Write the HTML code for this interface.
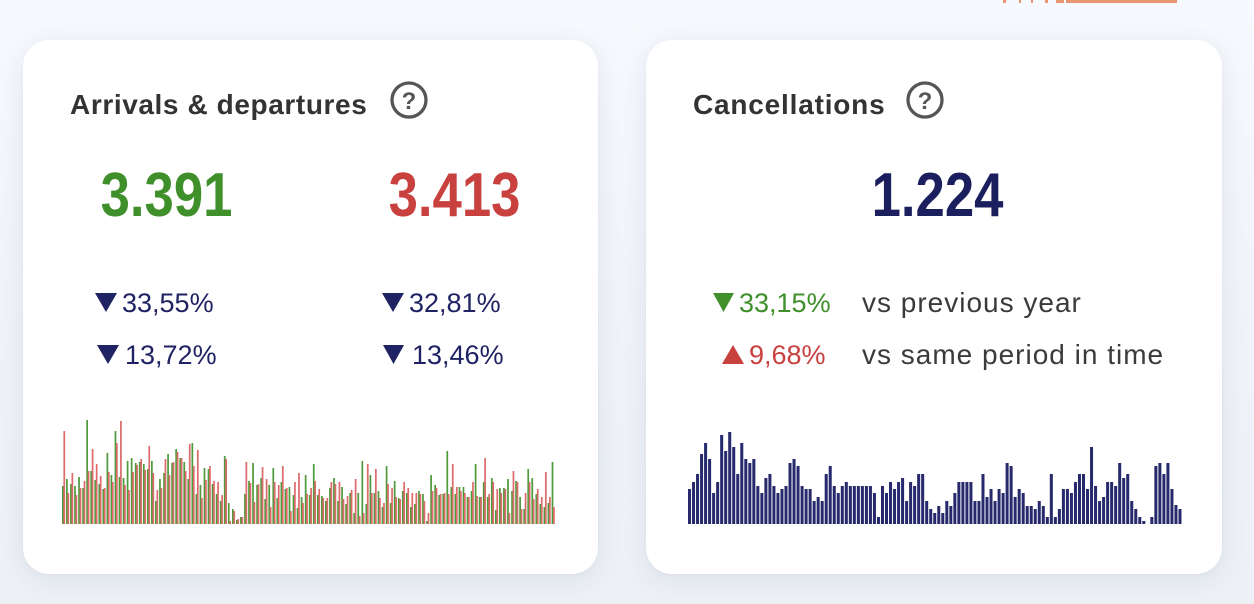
<!DOCTYPE html>
<html><head><meta charset="utf-8">
<style>
html,body{margin:0;padding:0;}
body{width:1254px;height:604px;overflow:hidden;position:relative;background:linear-gradient(180deg,#f6f9fd 0%,#eff3f8 60%,#edf1f6 100%);font-family:"Liberation Sans",sans-serif;}
.card{position:absolute;top:40px;height:534px;background:#fff;border-radius:26px;box-shadow:0 6px 26px rgba(40,60,100,0.09),0 1px 3px rgba(40,60,100,0.04);}
#c1{left:23px;width:575px;}
#c2{left:646px;width:576px;}
svg{position:absolute;display:block;}
.orange{position:absolute;top:0;height:3px;background:#e9956e;}
</style></head>
<body>
<div class="orange" style="left:1066px;width:111px;"></div>
<div class="orange" style="left:1003px;width:3px;"></div>
<div class="orange" style="left:1019px;width:2px;"></div>
<div class="orange" style="left:1031px;width:2px;"></div>
<div class="orange" style="left:1045px;width:3px;"></div>
<div class="orange" style="left:1056px;width:8px;"></div>
<div class="card" id="c1"></div>
<div class="card" id="c2"></div>

<svg style="left:0;top:0" width="1254" height="604" viewBox="0 0 1254 604" xmlns="http://www.w3.org/2000/svg">
  <g font-family="Liberation Sans, sans-serif">
    <text x="70" y="114" font-size="28" font-weight="bold" fill="#333333" letter-spacing="0.6">Arrivals &amp; departures</text>
    <circle cx="409" cy="100" r="17" fill="none" stroke="#555555" stroke-width="3.3"/>
    <text x="409" y="109" font-size="24" font-weight="bold" fill="#555555" text-anchor="middle">?</text>

    <text x="693" y="114" font-size="28" font-weight="bold" fill="#333333" letter-spacing="0.8">Cancellations</text>
    <circle cx="925" cy="100" r="17" fill="none" stroke="#555555" stroke-width="3.3"/>
    <text x="925" y="109" font-size="24" font-weight="bold" fill="#555555" text-anchor="middle">?</text>

    <text transform="translate(166.5,216) scale(0.85,1)" font-size="62" font-weight="bold" fill="#3f8f2b" text-anchor="middle">3.391</text>
    <text transform="translate(454.5,216) scale(0.85,1)" font-size="62" font-weight="bold" fill="#c8413f" text-anchor="middle">3.413</text>
    <text transform="translate(937.5,216) scale(0.85,1)" font-size="62" font-weight="bold" fill="#1c1f5e" text-anchor="middle">1.224</text>

    <polygon points="95,293 117,293 106,312" fill="#1f2263"/>
    <text x="122" y="312" font-size="27" fill="#1f2263">33,55%</text>
    <polygon points="97,345 119,345 108,364" fill="#1f2263"/>
    <text x="125" y="364" font-size="27" fill="#1f2263">13,72%</text>

    <polygon points="382,293 404,293 393,312" fill="#1f2263"/>
    <text x="409" y="312" font-size="27" fill="#1f2263">32,81%</text>
    <polygon points="383,345 404,345 393.5,364" fill="#1f2263"/>
    <text x="412" y="364" font-size="27" fill="#1f2263">13,46%</text>

    <polygon points="713,293 734,293 723.5,312" fill="#3f8f2b"/>
    <text x="739" y="312" font-size="27" fill="#3f8f2b">33,15%</text>
    <text x="862" y="312" font-size="28" fill="#3a3a3a" letter-spacing="1">vs previous year</text>

    <polygon points="722,364 744,364 733,345" fill="#c8413f"/>
    <text x="749" y="364" font-size="27" fill="#c8413f">9,68%</text>
    <text x="862" y="364" font-size="28" fill="#3a3a3a" letter-spacing="1">vs same period in time</text>
  </g>
</svg>

<svg style="left:61.5px;top:404px" width="493.7" height="120" viewBox="0 0 488 120" preserveAspectRatio="none" xmlns="http://www.w3.org/2000/svg">
<g transform="matrix(1 0 0 -1 0 120)">
<path fill="#4f9a3c" d="M0 0v38h1.7V0zM4 0v45h1.7V0zM8 0v40h1.7V0zM12 0v38h1.7V0zM16 0v47h1.7V0zM20 0v36h1.7V0zM24 0v104h1.7V0zM28 0v53h1.7V0zM32 0v44h1.7V0zM36 0v40h1.7V0zM40 0v35h1.7V0zM44 0v71h1.7V0zM48 0v49h1.7V0zM52 0v93h1.7V0zM56 0v47h1.7V0zM60 0v46h1.7V0zM64 0v63h1.7V0zM68 0v66h1.7V0zM72 0v61h1.7V0zM76 0v62h1.7V0zM80 0v60h1.7V0zM84 0v55h1.7V0zM88 0v63h1.7V0zM92 0v23h1.7V0zM96 0v45h1.7V0zM100 0v51h1.7V0zM104 0v70h1.7V0zM108 0v61h1.7V0zM112 0v75h1.7V0zM116 0v66h1.7V0zM120 0v62h1.7V0zM124 0v45h1.7V0zM128 0v81h1.7V0zM132 0v30h1.7V0zM136 0v39h1.7V0zM140 0v56h1.7V0zM144 0v55h1.7V0zM148 0v40h1.7V0zM152 0v30h1.7V0zM156 0v23h1.7V0zM160 0v68h1.7V0zM164 0v21h1.7V0zM168 0v15h1.7V0zM172 0v4h1.7V0zM176 0v7h1.7V0zM180 0v30h1.7V0zM184 0v43h1.7V0zM188 0v61h1.7V0zM192 0v39h1.7V0zM196 0v46h1.7V0zM200 0v25h1.7V0zM204 0v39h1.7V0zM208 0v56h1.7V0zM212 0v26h1.7V0zM216 0v42h1.7V0zM220 0v35h1.7V0zM224 0v37h1.7V0zM228 0v29h1.7V0zM232 0v16h1.7V0zM236 0v27h1.7V0zM240 0v49h1.7V0zM244 0v29h1.7V0zM248 0v60h1.7V0zM252 0v29h1.7V0zM256 0v28h1.7V0zM260 0v23h1.7V0zM264 0v36h1.7V0zM268 0v46h1.7V0zM272 0v23h1.7V0zM276 0v37h1.7V0zM280 0v20h1.7V0zM284 0v31h1.7V0zM288 0v11h1.7V0zM292 0v31h1.7V0zM296 0v63h1.7V0zM300 0v20h1.7V0zM304 0v49h1.7V0zM308 0v31h1.7V0zM312 0v33h1.7V0zM316 0v17h1.7V0zM320 0v58h1.7V0zM324 0v21h1.7V0zM328 0v43h1.7V0zM332 0v26h1.7V0zM336 0v33h1.7V0zM340 0v31h1.7V0zM344 0v17h1.7V0zM348 0v20h1.7V0zM352 0v33h1.7V0zM356 0v30h1.7V0zM360 0v3h1.7V0zM364 0v49h1.7V0zM368 0v39h1.7V0zM372 0v29h1.7V0zM376 0v30h1.7V0zM380 0v73h1.7V0zM384 0v37h1.7V0zM388 0v30h1.7V0zM392 0v37h1.7V0zM396 0v37h1.7V0zM400 0v27h1.7V0zM404 0v33h1.7V0zM408 0v60h1.7V0zM412 0v27h1.7V0zM416 0v42h1.7V0zM420 0v27h1.7V0zM424 0v46h1.7V0zM428 0v14h1.7V0zM432 0v36h1.7V0zM436 0v36h1.7V0zM440 0v45h1.7V0zM444 0v33h1.7V0zM448 0v43h1.7V0zM452 0v27h1.7V0zM456 0v15h1.7V0zM460 0v55h1.7V0zM464 0v46h1.7V0zM468 0v30h1.7V0zM472 0v20h1.7V0zM476 0v17h1.7V0zM480 0v21h1.7V0zM484 0v62h1.7V0z"/>
<path fill="#dd6b6b" d="M1.4 0v93h1.7V0zM5.4 0v31h1.7V0zM9.4 0v51h1.7V0zM13.4 0v29h1.7V0zM17.4 0v36h1.7V0zM21.4 0v43h1.7V0zM25.4 0v53h1.7V0zM29.4 0v75h1.7V0zM33.4 0v60h1.7V0zM37.4 0v48h1.7V0zM41.4 0v36h1.7V0zM45.4 0v52h1.7V0zM49.4 0v42h1.7V0zM53.4 0v81h1.7V0zM57.4 0v103h1.7V0zM61.4 0v39h1.7V0zM65.4 0v34h1.7V0zM69.4 0v52h1.7V0zM73.4 0v59h1.7V0zM77.4 0v65h1.7V0zM81.4 0v54h1.7V0zM85.4 0v78h1.7V0zM89.4 0v51h1.7V0zM93.4 0v34h1.7V0zM97.4 0v36h1.7V0zM101.4 0v65h1.7V0zM105.4 0v49h1.7V0zM109.4 0v62h1.7V0zM113.4 0v72h1.7V0zM117.4 0v66h1.7V0zM121.4 0v53h1.7V0zM125.4 0v80h1.7V0zM129.4 0v58h1.7V0zM133.4 0v74h1.7V0zM137.4 0v26h1.7V0zM141.4 0v44h1.7V0zM145.4 0v58h1.7V0zM149.4 0v43h1.7V0zM153.4 0v42h1.7V0zM157.4 0v29h1.7V0zM161.4 0v65h1.7V0zM165.4 0v3h1.7V0zM169.4 0v13h1.7V0zM173.4 0v5h1.7V0zM177.4 0v7h1.7V0zM181.4 0v62h1.7V0zM185.4 0v41h1.7V0zM189.4 0v22h1.7V0zM193.4 0v40h1.7V0zM197.4 0v57h1.7V0zM201.4 0v45h1.7V0zM205.4 0v17h1.7V0zM209.4 0v42h1.7V0zM213.4 0v39h1.7V0zM217.4 0v58h1.7V0zM221.4 0v36h1.7V0zM225.4 0v13h1.7V0zM229.4 0v42h1.7V0zM233.4 0v51h1.7V0zM237.4 0v21h1.7V0zM241.4 0v30h1.7V0zM245.4 0v36h1.7V0zM249.4 0v43h1.7V0zM253.4 0v35h1.7V0zM257.4 0v26h1.7V0zM261.4 0v26h1.7V0zM265.4 0v42h1.7V0zM269.4 0v40h1.7V0zM273.4 0v42h1.7V0zM277.4 0v25h1.7V0zM281.4 0v28h1.7V0zM285.4 0v34h1.7V0zM289.4 0v45h1.7V0zM293.4 0v8h1.7V0zM297.4 0v11h1.7V0zM301.4 0v60h1.7V0zM305.4 0v31h1.7V0zM309.4 0v55h1.7V0zM313.4 0v26h1.7V0zM317.4 0v21h1.7V0zM321.4 0v40h1.7V0zM325.4 0v36h1.7V0zM329.4 0v27h1.7V0zM333.4 0v25h1.7V0zM337.4 0v42h1.7V0zM341.4 0v36h1.7V0zM345.4 0v31h1.7V0zM349.4 0v31h1.7V0zM353.4 0v30h1.7V0zM357.4 0v23h1.7V0zM361.4 0v11h1.7V0zM365.4 0v33h1.7V0zM369.4 0v36h1.7V0zM373.4 0v30h1.7V0zM377.4 0v31h1.7V0zM381.4 0v30h1.7V0zM385.4 0v60h1.7V0zM389.4 0v37h1.7V0zM393.4 0v33h1.7V0zM397.4 0v31h1.7V0zM401.4 0v27h1.7V0zM405.4 0v42h1.7V0zM409.4 0v28h1.7V0zM413.4 0v27h1.7V0zM417.4 0v66h1.7V0zM421.4 0v30h1.7V0zM425.4 0v42h1.7V0zM429.4 0v35h1.7V0zM433.4 0v31h1.7V0zM437.4 0v35h1.7V0zM441.4 0v11h1.7V0zM445.4 0v53h1.7V0zM449.4 0v42h1.7V0zM453.4 0v15h1.7V0zM457.4 0v31h1.7V0zM461.4 0v42h1.7V0zM465.4 0v25h1.7V0zM469.4 0v35h1.7V0zM473.4 0v27h1.7V0zM477.4 0v52h1.7V0zM481.4 0v27h1.7V0zM485.4 0v17h1.7V0z"/>
</g>
</svg>

<svg style="left:687.7px;top:404px" width="494.5" height="120" viewBox="0 0 492 120" preserveAspectRatio="none" xmlns="http://www.w3.org/2000/svg">
<g transform="matrix(1 0 0 -1 0 120)">
<path fill="#262a6c" d="M0 0v35h3V0zM4 0v42h3V0zM8 0v50h3V0zM12 0v70h3V0zM16 0v81h3V0zM20 0v65h3V0zM24 0v31h3V0zM28 0v42h3V0zM32 0v89h3V0zM36 0v73h3V0zM40 0v92h3V0zM44 0v77h3V0zM48 0v50h3V0zM52 0v81h3V0zM56 0v65h3V0zM60 0v61h3V0zM64 0v65h3V0zM68 0v38h3V0zM72 0v31h3V0zM76 0v46h3V0zM80 0v50h3V0zM84 0v38h3V0zM88 0v31h3V0zM92 0v35h3V0zM96 0v38h3V0zM100 0v61h3V0zM104 0v65h3V0zM108 0v58h3V0zM112 0v38h3V0zM116 0v35h3V0zM120 0v35h3V0zM124 0v23h3V0zM128 0v27h3V0zM132 0v23h3V0zM136 0v50h3V0zM140 0v58h3V0zM144 0v38h3V0zM148 0v31h3V0zM152 0v38h3V0zM156 0v42h3V0zM160 0v38h3V0zM164 0v38h3V0zM168 0v38h3V0zM172 0v38h3V0zM176 0v38h3V0zM180 0v38h3V0zM184 0v31h3V0zM188 0v7h3V0zM192 0v38h3V0zM196 0v31h3V0zM200 0v42h3V0zM204 0v35h3V0zM208 0v42h3V0zM212 0v46h3V0zM216 0v23h3V0zM220 0v42h3V0zM224 0v38h3V0zM228 0v50h3V0zM232 0v50h3V0zM236 0v23h3V0zM240 0v15h3V0zM244 0v11h3V0zM248 0v18h3V0zM252 0v11h3V0zM256 0v23h3V0zM260 0v18h3V0zM264 0v31h3V0zM268 0v42h3V0zM272 0v42h3V0zM276 0v42h3V0zM280 0v42h3V0zM284 0v23h3V0zM288 0v23h3V0zM292 0v50h3V0zM296 0v27h3V0zM300 0v35h3V0zM304 0v23h3V0zM308 0v35h3V0zM312 0v31h3V0zM316 0v61h3V0zM320 0v58h3V0zM324 0v27h3V0zM328 0v35h3V0zM332 0v31h3V0zM336 0v18h3V0zM340 0v18h3V0zM344 0v15h3V0zM348 0v23h3V0zM352 0v18h3V0zM356 0v7h3V0zM360 0v50h3V0zM364 0v7h3V0zM368 0v15h3V0zM372 0v35h3V0zM376 0v35h3V0zM380 0v31h3V0zM384 0v42h3V0zM388 0v50h3V0zM392 0v50h3V0zM396 0v35h3V0zM400 0v77h3V0zM404 0v38h3V0zM408 0v23h3V0zM412 0v27h3V0zM416 0v42h3V0zM420 0v42h3V0zM424 0v38h3V0zM428 0v61h3V0zM432 0v46h3V0zM436 0v50h3V0zM440 0v23h3V0zM444 0v15h3V0zM448 0v7h3V0zM452 0v3h3V0zM460 0v7h3V0zM464 0v58h3V0zM468 0v61h3V0zM472 0v50h3V0zM476 0v61h3V0zM480 0v35h3V0zM484 0v19h3V0zM488 0v15h3V0z"/>
</g>
</svg>
</body></html>
